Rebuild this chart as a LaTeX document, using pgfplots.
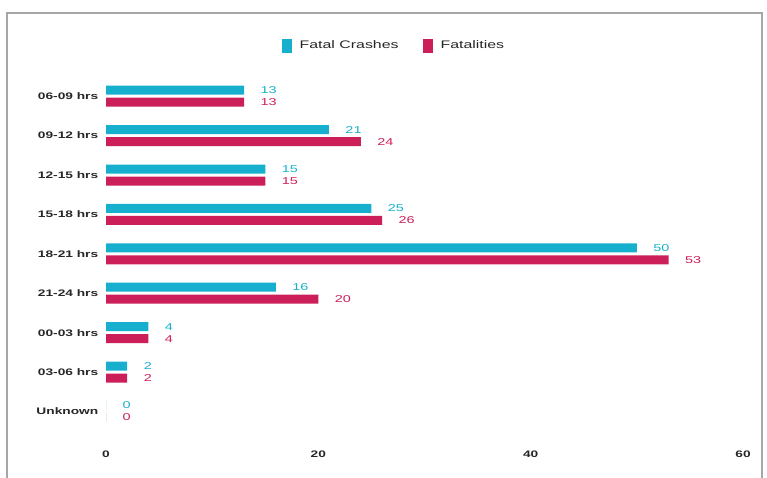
\documentclass[border=0pt]{standalone}
\usepackage{fontspec}
\setmainfont{Liberation Sans}
\newfontfamily\wide[FakeStretch=1.45]{Liberation Sans}
\usepackage{pgfplots}
\pgfplotsset{compat=1.18}
\definecolor{cy}{RGB}{22,176,206}
\definecolor{mg}{RGB}{204,30,88}
\begin{document}
\begin{tikzpicture}[x=1bp,y=1bp]
\useasboundingbox (0,0) rectangle (767,-478);
\draw[gray!70, line width=2.5bp] (7,-495) -- (7,-13) -- (762,-13) -- (762,-495);
\begin{axis}[
  at={(106bp,-441bp)}, anchor=south west,
  scale only axis, width=637bp, height=364.5bp,
  xmin=0, xmax=60, ymin=-0.75, ymax=8.5,
  xbar, bar width=9bp,
  axis line style={draw=none}, tick style={draw=none},
  xtick={0,20,40,60},
  ytick={0,...,8},
  yticklabels={Unknown,03-06 hrs,00-03 hrs,21-24 hrs,18-21 hrs,15-18 hrs,12-15 hrs,09-12 hrs,06-09 hrs},
  tick label style={font=\wide\bfseries\fontsize{9.5}{11}\selectfont, text=black!85},
  xticklabel style={yshift=-6bp},
  /pgf/number format/assume math mode=true,
  legend style={at={(0.452,1.085)}, anchor=center, draw=none, fill=none,
    legend columns=2, font=\wide\fontsize{11}{13}\selectfont, text=black!85,
    /tikz/every odd column/.append style={column sep=6bp},
    /tikz/every even column/.append style={column sep=22bp}},
  legend image code/.code={\fill[#1] (0bp,-7bp) rectangle (10bp,7bp);},
  nodes near coords,
  every node near coord/.append style={font=\wide\fontsize{10}{12}\selectfont, anchor=west, xshift=13bp},
]
\addplot[fill=cy, draw=none, bar shift=6bp, every node near coord/.append style={text=cy}]
 coordinates {(0,0) (2,1) (4,2) (16,3) (50,4) (25,5) (15,6) (21,7) (13,8)};
\addplot[fill=mg, draw=none, bar shift=-6bp, every node near coord/.append style={text=mg}]
 coordinates {(0,0) (2,1) (4,2) (20,3) (53,4) (26,5) (15,6) (24,7) (13,8)};
\legend{Fatal Crashes, Fatalities}
\end{axis}
\end{tikzpicture}
\end{document}
